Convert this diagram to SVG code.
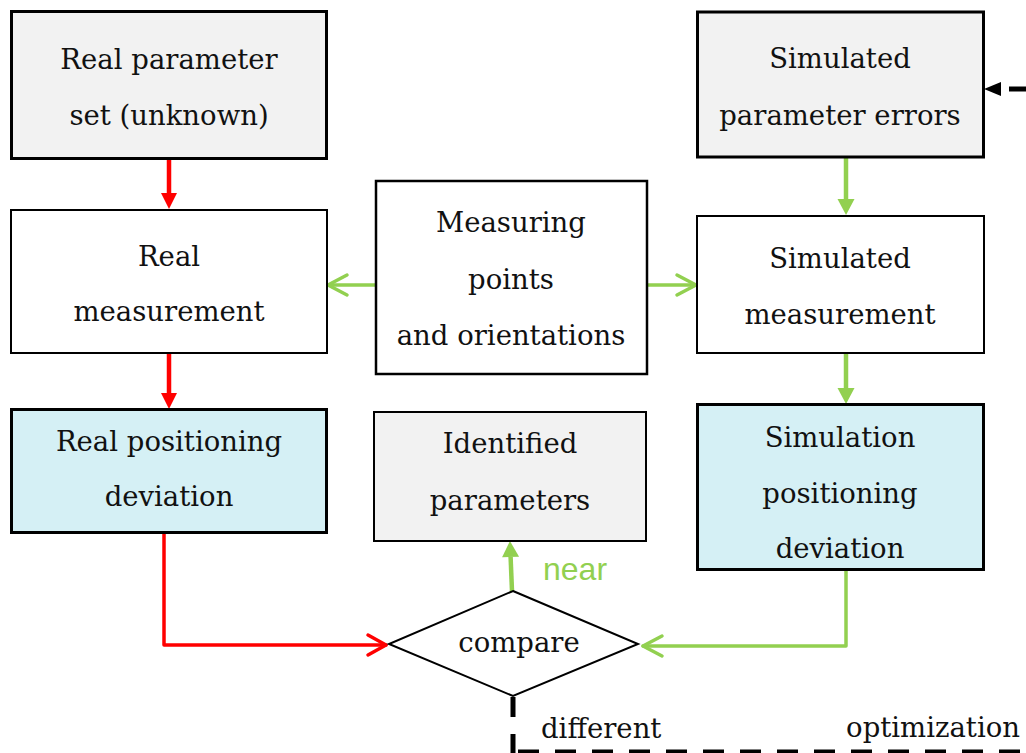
<svg xmlns="http://www.w3.org/2000/svg" width="1026" height="753" viewBox="0 0 1026 753">
  <style>
    .box { stroke: #000; }
    .thick { stroke-width: 3; }
    .mid { stroke-width: 2.5; }
    .thin { stroke-width: 2; }
    .gray { fill: #f2f2f2; }
    .white { fill: #ffffff; }
    .cyan { fill: #d5f0f5; }
    .lbl { font-family: "DejaVu Serif", "Liberation Serif", serif; font-size: 27.5px; fill: #111; text-anchor: middle; }
    .free { font-family: "DejaVu Serif", "Liberation Serif", serif; font-size: 27.5px; fill: #111; }
    .near { font-family: "Liberation Sans", Arial, sans-serif; font-size: 32px; fill: #92d050; }
    .red { stroke: #ff0000; fill: none; }
    .green { stroke: #92d050; fill: none; }
    .flow { stroke-width: 4.5; }
    .side { stroke-width: 3.5; stroke-linecap: round; stroke-linejoin: round; }
    .dash { stroke: #000; fill: none; stroke-width: 5; }
  </style>
  <defs>
    <marker id="tri-red" markerUnits="userSpaceOnUse" orient="auto" refX="0" refY="0" markerWidth="20" markerHeight="20" overflow="visible">
      <path d="M0 -8 L16 0 L0 8 Z" fill="#ff0000"/>
    </marker>
    <marker id="tri-green" markerUnits="userSpaceOnUse" orient="auto" refX="0" refY="0" markerWidth="20" markerHeight="20" overflow="visible">
      <path d="M0 -8.5 L16 0 L0 8.5 Z" fill="#92d050"/>
    </marker>
    <marker id="tri-black" markerUnits="userSpaceOnUse" orient="auto" refX="0" refY="0" markerWidth="20" markerHeight="20" overflow="visible">
      <path d="M0 -7 L17 0 L0 7 Z" fill="#000"/>
    </marker>
    <marker id="chev-red" markerUnits="userSpaceOnUse" orient="auto" refX="0" refY="0" markerWidth="24" markerHeight="24" overflow="visible">
      <path d="M-18 -10 L0 0 L-18 10" fill="none" stroke="#ff0000" stroke-width="3.5" stroke-linecap="round" stroke-linejoin="round"/>
    </marker>
    <marker id="chev-green" markerUnits="userSpaceOnUse" orient="auto" refX="0" refY="0" markerWidth="24" markerHeight="24" overflow="visible">
      <path d="M-19 -10 L0 0 L-19 10" fill="none" stroke="#92d050" stroke-width="3.5" stroke-linecap="round" stroke-linejoin="round"/>
    </marker>
  </defs>

  <!-- connectors -->
  <g id="connectors">
    <!-- real branch -->
    <path class="red flow" d="M169 159 V193" marker-end="url(#tri-red)"/>
    <path class="red flow" d="M169 354 V393" marker-end="url(#tri-red)"/>
    <path class="red side" d="M164 533 V645 H386" marker-end="url(#chev-red)"/>
    <!-- measuring points feed both measurements -->
    <path class="green side" d="M376 285 H328" marker-end="url(#chev-green)"/>
    <path class="green side" d="M647 285 H696" marker-end="url(#chev-green)"/>
    <!-- simulated branch -->
    <path class="green flow" d="M846 157 V199" marker-end="url(#tri-green)"/>
    <path class="green flow" d="M846 354 V388" marker-end="url(#tri-green)"/>
    <path class="green side" d="M846 570 V646 H643" marker-end="url(#chev-green)"/>
    <!-- near: accept result -->
    <path class="green flow" d="M512 591 L510.6 557" marker-end="url(#tri-green)"/>
    <!-- different: optimization loop -->
    <path class="dash" d="M513 697 V753" stroke-dasharray="20 17"/>
    <path class="dash" d="M518 752 H1026" stroke-width="4" stroke-dasharray="21 16"/>
    <path class="dash" d="M1026 89 H1001" stroke-dasharray="17 8" marker-end="url(#tri-black)"/>
  </g>

  <g id="real-params">
    <rect class="box thick gray" x="11.5" y="11.5" width="315" height="147"/>
    <text class="lbl" x="169" y="69">Real parameter</text>
    <text class="lbl" x="169" y="125">set (unknown)</text>
  </g>

  <g id="real-measurement">
    <rect class="box thin white" x="11" y="210" width="316" height="143"/>
    <text class="lbl" x="169" y="266">Real</text>
    <text class="lbl" x="169" y="321">measurement</text>
  </g>

  <g id="real-deviation">
    <rect class="box thick cyan" x="11.5" y="409.5" width="315" height="123"/>
    <text class="lbl" x="169" y="451">Real positioning</text>
    <text class="lbl" x="169" y="506">deviation</text>
  </g>

  <g id="measuring-points">
    <rect class="box mid white" x="376" y="181" width="271" height="193"/>
    <text class="lbl" x="511" y="232">Measuring</text>
    <text class="lbl" x="511" y="289">points</text>
    <text class="lbl" x="511" y="345">and orientations</text>
  </g>

  <g id="identified-params">
    <rect class="box thin gray" x="374" y="412" width="272" height="129"/>
    <text class="lbl" x="510" y="453">Identified</text>
    <text class="lbl" x="510" y="510">parameters</text>
  </g>

  <g id="sim-param-errors">
    <rect class="box thick gray" x="697.5" y="12" width="286" height="145"/>
    <text class="lbl" x="840" y="68">Simulated</text>
    <text class="lbl" x="840" y="125">parameter errors</text>
  </g>

  <g id="sim-measurement">
    <rect class="box thin white" x="697" y="216" width="287" height="137"/>
    <text class="lbl" x="840" y="268">Simulated</text>
    <text class="lbl" x="840" y="324">measurement</text>
  </g>

  <g id="sim-deviation">
    <rect class="box thick cyan" x="697.5" y="404.5" width="286" height="165"/>
    <text class="lbl" x="840" y="447">Simulation</text>
    <text class="lbl" x="840" y="503">positioning</text>
    <text class="lbl" x="840" y="558">deviation</text>
  </g>

  <g id="compare">
    <polygon points="513,591 638,644 513,696 389,644" fill="#fff" stroke="#000" stroke-width="2"/>
    <text class="lbl" x="519" y="652">compare</text>
  </g>

  <g id="edge-labels">
    <text class="near" x="543" y="580">near</text>
    <text class="free" x="541" y="738">different</text>
    <text class="free" x="1020" y="737" text-anchor="end">optimization</text>
  </g>
</svg>
